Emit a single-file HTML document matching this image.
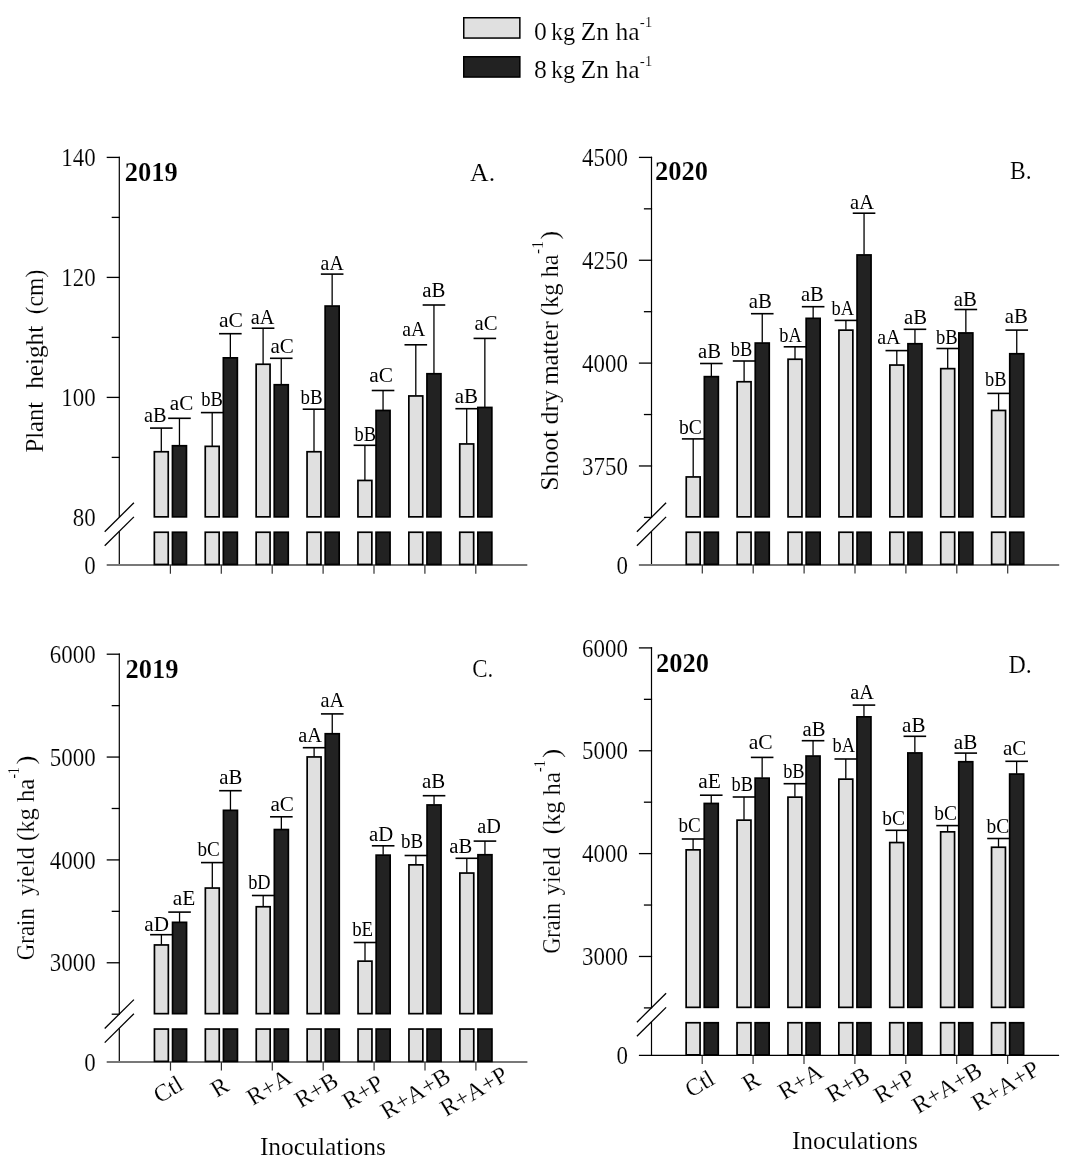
<!DOCTYPE html>
<html><head><meta charset="utf-8"><style>
html,body{margin:0;padding:0;background:#fff;}
svg{display:block;will-change:transform;}
text{font-family:"Liberation Serif",serif;fill:#000;font-kerning:none;stroke:#fff;stroke-width:0.6px;}
text.s{stroke:none;}
</style></head><body>
<svg width="1079" height="1169" viewBox="0 0 1079 1169">
<rect width="1079" height="1169" fill="#fff"/>
<rect x="463.75" y="17.75" width="56.10" height="20.30" fill="#e0e0e0" stroke="#000" stroke-width="1.50"/>
<rect x="463.75" y="56.75" width="56.10" height="20.30" fill="#222222" stroke="#000" stroke-width="1.50"/>
<text transform="translate(534.02 39.60) scale(0.2624 0.2500)" font-size="98.00">0</text>
<text transform="translate(550.94 39.60) scale(0.2482 0.2500)" font-size="98.00">kg</text>
<text transform="translate(580.68 39.60) scale(0.2600 0.2500)" font-size="98.00">Zn</text>
<text transform="translate(615.55 39.60) scale(0.2616 0.2500)" font-size="98.00">ha</text>
<text transform="translate(639.84 27.30) scale(0.2433 0.2500)" font-size="62.00">-1</text>
<text transform="translate(534.02 78.10) scale(0.2624 0.2500)" font-size="98.00">8</text>
<text transform="translate(550.94 78.10) scale(0.2482 0.2500)" font-size="98.00">kg</text>
<text transform="translate(580.68 78.10) scale(0.2600 0.2500)" font-size="98.00">Zn</text>
<text transform="translate(615.55 78.10) scale(0.2616 0.2500)" font-size="98.00">ha</text>
<text transform="translate(639.84 65.80) scale(0.2433 0.2500)" font-size="62.00">-1</text>
<line x1="119.30" y1="156.75" x2="119.30" y2="517.20" stroke="#000" stroke-width="1.20"/>
<line x1="119.30" y1="531.40" x2="119.30" y2="565.00" stroke="#000" stroke-width="1.20"/>
<line x1="106.70" y1="157.40" x2="119.90" y2="157.40" stroke="#000" stroke-width="1.30"/>
<line x1="106.70" y1="277.40" x2="119.90" y2="277.40" stroke="#000" stroke-width="1.30"/>
<line x1="106.70" y1="397.40" x2="119.90" y2="397.40" stroke="#000" stroke-width="1.30"/>
<line x1="111.70" y1="217.40" x2="119.90" y2="217.40" stroke="#000" stroke-width="1.30"/>
<line x1="111.70" y1="337.40" x2="119.90" y2="337.40" stroke="#000" stroke-width="1.30"/>
<line x1="111.70" y1="457.40" x2="119.90" y2="457.40" stroke="#000" stroke-width="1.30"/>
<line x1="104.70" y1="531.70" x2="133.90" y2="502.80" stroke="#000" stroke-width="1.30"/>
<line x1="104.70" y1="545.80" x2="133.90" y2="516.90" stroke="#000" stroke-width="1.30"/>
<text transform="translate(61.35 166.00) scale(0.2250 0.2500)" font-size="102.00">140</text>
<text transform="translate(61.35 286.00) scale(0.2250 0.2500)" font-size="102.00">120</text>
<text transform="translate(61.35 406.00) scale(0.2250 0.2500)" font-size="102.00">100</text>
<text transform="translate(72.82 526.00) scale(0.2250 0.2500)" font-size="102.00">80</text>
<text transform="translate(84.30 573.60) scale(0.2250 0.2500)" font-size="102.00">0</text>
<rect x="106.70" y="564.00" width="420.60" height="2" fill="#787878"/>
<line x1="161.30" y1="428.10" x2="161.30" y2="451.40" stroke="#000" stroke-width="1.30"/>
<line x1="150.00" y1="428.10" x2="172.60" y2="428.10" stroke="#000" stroke-width="1.60"/>
<rect x="154.35" y="451.75" width="13.90" height="65.10" fill="#e0e0e0" stroke="#000" stroke-width="1.70"/>
<rect x="154.35" y="532.25" width="13.90" height="32.20" fill="#e0e0e0" stroke="#000" stroke-width="1.70"/>
<line x1="179.45" y1="418.30" x2="179.45" y2="445.40" stroke="#000" stroke-width="1.30"/>
<line x1="168.15" y1="418.30" x2="190.75" y2="418.30" stroke="#000" stroke-width="1.60"/>
<rect x="172.45" y="445.75" width="14.00" height="71.10" fill="#222222" stroke="#000" stroke-width="1.70"/>
<rect x="172.45" y="532.25" width="14.00" height="32.20" fill="#222222" stroke="#000" stroke-width="1.70"/>
<line x1="170.40" y1="565.00" x2="170.40" y2="573.70" stroke="#333" stroke-width="1.20"/>
<line x1="212.20" y1="412.60" x2="212.20" y2="446.00" stroke="#000" stroke-width="1.30"/>
<line x1="200.90" y1="412.60" x2="223.50" y2="412.60" stroke="#000" stroke-width="1.60"/>
<rect x="205.25" y="446.35" width="13.90" height="70.50" fill="#e0e0e0" stroke="#000" stroke-width="1.70"/>
<rect x="205.25" y="532.25" width="13.90" height="32.20" fill="#e0e0e0" stroke="#000" stroke-width="1.70"/>
<line x1="230.35" y1="333.70" x2="230.35" y2="357.50" stroke="#000" stroke-width="1.30"/>
<line x1="219.05" y1="333.70" x2="241.65" y2="333.70" stroke="#000" stroke-width="1.60"/>
<rect x="223.35" y="357.85" width="14.00" height="159.00" fill="#222222" stroke="#000" stroke-width="1.70"/>
<rect x="223.35" y="532.25" width="14.00" height="32.20" fill="#222222" stroke="#000" stroke-width="1.70"/>
<line x1="221.30" y1="565.00" x2="221.30" y2="573.70" stroke="#333" stroke-width="1.20"/>
<line x1="263.10" y1="328.20" x2="263.10" y2="363.90" stroke="#000" stroke-width="1.30"/>
<line x1="251.80" y1="328.20" x2="274.40" y2="328.20" stroke="#000" stroke-width="1.60"/>
<rect x="256.15" y="364.25" width="13.90" height="152.60" fill="#e0e0e0" stroke="#000" stroke-width="1.70"/>
<rect x="256.15" y="532.25" width="13.90" height="32.20" fill="#e0e0e0" stroke="#000" stroke-width="1.70"/>
<line x1="281.25" y1="358.30" x2="281.25" y2="384.40" stroke="#000" stroke-width="1.30"/>
<line x1="269.95" y1="358.30" x2="292.55" y2="358.30" stroke="#000" stroke-width="1.60"/>
<rect x="274.25" y="384.75" width="14.00" height="132.10" fill="#222222" stroke="#000" stroke-width="1.70"/>
<rect x="274.25" y="532.25" width="14.00" height="32.20" fill="#222222" stroke="#000" stroke-width="1.70"/>
<line x1="272.20" y1="565.00" x2="272.20" y2="573.70" stroke="#333" stroke-width="1.20"/>
<line x1="314.00" y1="409.20" x2="314.00" y2="451.40" stroke="#000" stroke-width="1.30"/>
<line x1="302.70" y1="409.20" x2="325.30" y2="409.20" stroke="#000" stroke-width="1.60"/>
<rect x="307.05" y="451.75" width="13.90" height="65.10" fill="#e0e0e0" stroke="#000" stroke-width="1.70"/>
<rect x="307.05" y="532.25" width="13.90" height="32.20" fill="#e0e0e0" stroke="#000" stroke-width="1.70"/>
<line x1="332.15" y1="274.10" x2="332.15" y2="305.70" stroke="#000" stroke-width="1.30"/>
<line x1="320.85" y1="274.10" x2="343.45" y2="274.10" stroke="#000" stroke-width="1.60"/>
<rect x="325.15" y="306.05" width="14.00" height="210.80" fill="#222222" stroke="#000" stroke-width="1.70"/>
<rect x="325.15" y="532.25" width="14.00" height="32.20" fill="#222222" stroke="#000" stroke-width="1.70"/>
<line x1="323.10" y1="565.00" x2="323.10" y2="573.70" stroke="#333" stroke-width="1.20"/>
<line x1="364.90" y1="445.30" x2="364.90" y2="480.10" stroke="#000" stroke-width="1.30"/>
<line x1="353.60" y1="445.30" x2="376.20" y2="445.30" stroke="#000" stroke-width="1.60"/>
<rect x="357.95" y="480.45" width="13.90" height="36.40" fill="#e0e0e0" stroke="#000" stroke-width="1.70"/>
<rect x="357.95" y="532.25" width="13.90" height="32.20" fill="#e0e0e0" stroke="#000" stroke-width="1.70"/>
<line x1="383.05" y1="390.50" x2="383.05" y2="410.10" stroke="#000" stroke-width="1.30"/>
<line x1="371.75" y1="390.50" x2="394.35" y2="390.50" stroke="#000" stroke-width="1.60"/>
<rect x="376.05" y="410.45" width="14.00" height="106.40" fill="#222222" stroke="#000" stroke-width="1.70"/>
<rect x="376.05" y="532.25" width="14.00" height="32.20" fill="#222222" stroke="#000" stroke-width="1.70"/>
<line x1="374.00" y1="565.00" x2="374.00" y2="573.70" stroke="#333" stroke-width="1.20"/>
<line x1="415.80" y1="344.80" x2="415.80" y2="395.60" stroke="#000" stroke-width="1.30"/>
<line x1="404.50" y1="344.80" x2="427.10" y2="344.80" stroke="#000" stroke-width="1.60"/>
<rect x="408.85" y="395.95" width="13.90" height="120.90" fill="#e0e0e0" stroke="#000" stroke-width="1.70"/>
<rect x="408.85" y="532.25" width="13.90" height="32.20" fill="#e0e0e0" stroke="#000" stroke-width="1.70"/>
<line x1="433.95" y1="305.00" x2="433.95" y2="373.40" stroke="#000" stroke-width="1.30"/>
<line x1="422.65" y1="305.00" x2="445.25" y2="305.00" stroke="#000" stroke-width="1.60"/>
<rect x="426.95" y="373.75" width="14.00" height="143.10" fill="#222222" stroke="#000" stroke-width="1.70"/>
<rect x="426.95" y="532.25" width="14.00" height="32.20" fill="#222222" stroke="#000" stroke-width="1.70"/>
<line x1="424.90" y1="565.00" x2="424.90" y2="573.70" stroke="#333" stroke-width="1.20"/>
<line x1="466.70" y1="408.70" x2="466.70" y2="443.60" stroke="#000" stroke-width="1.30"/>
<line x1="455.40" y1="408.70" x2="478.00" y2="408.70" stroke="#000" stroke-width="1.60"/>
<rect x="459.75" y="443.95" width="13.90" height="72.90" fill="#e0e0e0" stroke="#000" stroke-width="1.70"/>
<rect x="459.75" y="532.25" width="13.90" height="32.20" fill="#e0e0e0" stroke="#000" stroke-width="1.70"/>
<line x1="484.85" y1="338.40" x2="484.85" y2="407.10" stroke="#000" stroke-width="1.30"/>
<line x1="473.55" y1="338.40" x2="496.15" y2="338.40" stroke="#000" stroke-width="1.60"/>
<rect x="477.85" y="407.45" width="14.00" height="109.40" fill="#222222" stroke="#000" stroke-width="1.70"/>
<rect x="477.85" y="532.25" width="14.00" height="32.20" fill="#222222" stroke="#000" stroke-width="1.70"/>
<line x1="475.80" y1="565.00" x2="475.80" y2="573.70" stroke="#333" stroke-width="1.20"/>
<text transform="translate(144.08 421.90) scale(0.2544 0.2500)" font-size="80.00" class="s">aB</text>
<text transform="translate(169.76 409.70) scale(0.2646 0.2500)" font-size="80.00" class="s">aC</text>
<text transform="translate(201.30 406.10) scale(0.2314 0.2500)" font-size="80.00" class="s">bB</text>
<text transform="translate(219.02 326.70) scale(0.2700 0.2500)" font-size="80.00" class="s">aC</text>
<text transform="translate(250.79 323.80) scale(0.2526 0.2500)" font-size="80.00" class="s">aA</text>
<text transform="translate(270.46 353.10) scale(0.2633 0.2500)" font-size="80.00" class="s">aC</text>
<text transform="translate(300.50 404.30) scale(0.2370 0.2500)" font-size="80.00" class="s">bB</text>
<text transform="translate(320.61 270.20) scale(0.2470 0.2500)" font-size="80.00" class="s">aA</text>
<text transform="translate(354.56 440.50) scale(0.2300 0.2500)" font-size="80.00" class="s">bB</text>
<text transform="translate(369.25 382.10) scale(0.2670 0.2500)" font-size="80.00" class="s">aC</text>
<text transform="translate(402.31 335.70) scale(0.2470 0.2500)" font-size="80.00" class="s">aA</text>
<text transform="translate(422.27 296.70) scale(0.2605 0.2500)" font-size="80.00" class="s">aB</text>
<text transform="translate(454.76 403.20) scale(0.2617 0.2500)" font-size="80.00" class="s">aB</text>
<text transform="translate(474.47 330.10) scale(0.2597 0.2500)" font-size="80.00" class="s">aC</text>
<line x1="651.50" y1="156.75" x2="651.50" y2="517.20" stroke="#000" stroke-width="1.20"/>
<line x1="651.50" y1="531.40" x2="651.50" y2="564.90" stroke="#000" stroke-width="1.20"/>
<line x1="638.90" y1="157.40" x2="652.10" y2="157.40" stroke="#000" stroke-width="1.30"/>
<line x1="638.90" y1="260.26" x2="652.10" y2="260.26" stroke="#000" stroke-width="1.30"/>
<line x1="638.90" y1="363.11" x2="652.10" y2="363.11" stroke="#000" stroke-width="1.30"/>
<line x1="638.90" y1="465.97" x2="652.10" y2="465.97" stroke="#000" stroke-width="1.30"/>
<line x1="643.90" y1="208.83" x2="652.10" y2="208.83" stroke="#000" stroke-width="1.30"/>
<line x1="643.90" y1="311.69" x2="652.10" y2="311.69" stroke="#000" stroke-width="1.30"/>
<line x1="643.90" y1="414.54" x2="652.10" y2="414.54" stroke="#000" stroke-width="1.30"/>
<line x1="643.90" y1="517.40" x2="652.10" y2="517.40" stroke="#000" stroke-width="1.30"/>
<line x1="636.90" y1="531.70" x2="666.10" y2="502.80" stroke="#000" stroke-width="1.30"/>
<line x1="636.90" y1="545.80" x2="666.10" y2="516.90" stroke="#000" stroke-width="1.30"/>
<text transform="translate(582.07 166.00) scale(0.2250 0.2500)" font-size="102.00">4500</text>
<text transform="translate(582.07 268.86) scale(0.2250 0.2500)" font-size="102.00">4250</text>
<text transform="translate(582.07 371.71) scale(0.2250 0.2500)" font-size="102.00">4000</text>
<text transform="translate(582.07 474.57) scale(0.2250 0.2500)" font-size="102.00">3750</text>
<text transform="translate(616.50 573.50) scale(0.2250 0.2500)" font-size="102.00">0</text>
<rect x="638.90" y="564.00" width="420.30" height="2" fill="#787878"/>
<line x1="693.20" y1="438.90" x2="693.20" y2="476.60" stroke="#000" stroke-width="1.30"/>
<line x1="681.90" y1="438.90" x2="704.50" y2="438.90" stroke="#000" stroke-width="1.60"/>
<rect x="686.25" y="476.95" width="13.90" height="39.90" fill="#e0e0e0" stroke="#000" stroke-width="1.70"/>
<rect x="686.25" y="532.25" width="13.90" height="32.10" fill="#e0e0e0" stroke="#000" stroke-width="1.70"/>
<line x1="711.35" y1="363.50" x2="711.35" y2="376.30" stroke="#000" stroke-width="1.30"/>
<line x1="700.05" y1="363.50" x2="722.65" y2="363.50" stroke="#000" stroke-width="1.60"/>
<rect x="704.35" y="376.65" width="14.00" height="140.20" fill="#222222" stroke="#000" stroke-width="1.70"/>
<rect x="704.35" y="532.25" width="14.00" height="32.10" fill="#222222" stroke="#000" stroke-width="1.70"/>
<line x1="702.30" y1="564.90" x2="702.30" y2="573.60" stroke="#333" stroke-width="1.20"/>
<line x1="744.10" y1="361.00" x2="744.10" y2="381.40" stroke="#000" stroke-width="1.30"/>
<line x1="732.80" y1="361.00" x2="755.40" y2="361.00" stroke="#000" stroke-width="1.60"/>
<rect x="737.15" y="381.75" width="13.90" height="135.10" fill="#e0e0e0" stroke="#000" stroke-width="1.70"/>
<rect x="737.15" y="532.25" width="13.90" height="32.10" fill="#e0e0e0" stroke="#000" stroke-width="1.70"/>
<line x1="762.25" y1="313.70" x2="762.25" y2="342.70" stroke="#000" stroke-width="1.30"/>
<line x1="750.95" y1="313.70" x2="773.55" y2="313.70" stroke="#000" stroke-width="1.60"/>
<rect x="755.25" y="343.05" width="14.00" height="173.80" fill="#222222" stroke="#000" stroke-width="1.70"/>
<rect x="755.25" y="532.25" width="14.00" height="32.10" fill="#222222" stroke="#000" stroke-width="1.70"/>
<line x1="753.20" y1="564.90" x2="753.20" y2="573.60" stroke="#333" stroke-width="1.20"/>
<line x1="795.00" y1="346.80" x2="795.00" y2="358.90" stroke="#000" stroke-width="1.30"/>
<line x1="783.70" y1="346.80" x2="806.30" y2="346.80" stroke="#000" stroke-width="1.60"/>
<rect x="788.05" y="359.25" width="13.90" height="157.60" fill="#e0e0e0" stroke="#000" stroke-width="1.70"/>
<rect x="788.05" y="532.25" width="13.90" height="32.10" fill="#e0e0e0" stroke="#000" stroke-width="1.70"/>
<line x1="813.15" y1="306.70" x2="813.15" y2="318.00" stroke="#000" stroke-width="1.30"/>
<line x1="801.85" y1="306.70" x2="824.45" y2="306.70" stroke="#000" stroke-width="1.60"/>
<rect x="806.15" y="318.35" width="14.00" height="198.50" fill="#222222" stroke="#000" stroke-width="1.70"/>
<rect x="806.15" y="532.25" width="14.00" height="32.10" fill="#222222" stroke="#000" stroke-width="1.70"/>
<line x1="804.10" y1="564.90" x2="804.10" y2="573.60" stroke="#333" stroke-width="1.20"/>
<line x1="845.90" y1="320.40" x2="845.90" y2="329.80" stroke="#000" stroke-width="1.30"/>
<line x1="834.60" y1="320.40" x2="857.20" y2="320.40" stroke="#000" stroke-width="1.60"/>
<rect x="838.95" y="330.15" width="13.90" height="186.70" fill="#e0e0e0" stroke="#000" stroke-width="1.70"/>
<rect x="838.95" y="532.25" width="13.90" height="32.10" fill="#e0e0e0" stroke="#000" stroke-width="1.70"/>
<line x1="864.05" y1="213.20" x2="864.05" y2="254.60" stroke="#000" stroke-width="1.30"/>
<line x1="852.75" y1="213.20" x2="875.35" y2="213.20" stroke="#000" stroke-width="1.60"/>
<rect x="857.05" y="254.95" width="14.00" height="261.90" fill="#222222" stroke="#000" stroke-width="1.70"/>
<rect x="857.05" y="532.25" width="14.00" height="32.10" fill="#222222" stroke="#000" stroke-width="1.70"/>
<line x1="855.00" y1="564.90" x2="855.00" y2="573.60" stroke="#333" stroke-width="1.20"/>
<line x1="896.80" y1="350.60" x2="896.80" y2="364.70" stroke="#000" stroke-width="1.30"/>
<line x1="885.50" y1="350.60" x2="908.10" y2="350.60" stroke="#000" stroke-width="1.60"/>
<rect x="889.85" y="365.05" width="13.90" height="151.80" fill="#e0e0e0" stroke="#000" stroke-width="1.70"/>
<rect x="889.85" y="532.25" width="13.90" height="32.10" fill="#e0e0e0" stroke="#000" stroke-width="1.70"/>
<line x1="914.95" y1="329.30" x2="914.95" y2="343.40" stroke="#000" stroke-width="1.30"/>
<line x1="903.65" y1="329.30" x2="926.25" y2="329.30" stroke="#000" stroke-width="1.60"/>
<rect x="907.95" y="343.75" width="14.00" height="173.10" fill="#222222" stroke="#000" stroke-width="1.70"/>
<rect x="907.95" y="532.25" width="14.00" height="32.10" fill="#222222" stroke="#000" stroke-width="1.70"/>
<line x1="905.90" y1="564.90" x2="905.90" y2="573.60" stroke="#333" stroke-width="1.20"/>
<line x1="947.70" y1="348.50" x2="947.70" y2="368.30" stroke="#000" stroke-width="1.30"/>
<line x1="936.40" y1="348.50" x2="959.00" y2="348.50" stroke="#000" stroke-width="1.60"/>
<rect x="940.75" y="368.65" width="13.90" height="148.20" fill="#e0e0e0" stroke="#000" stroke-width="1.70"/>
<rect x="940.75" y="532.25" width="13.90" height="32.10" fill="#e0e0e0" stroke="#000" stroke-width="1.70"/>
<line x1="965.85" y1="309.50" x2="965.85" y2="332.60" stroke="#000" stroke-width="1.30"/>
<line x1="954.55" y1="309.50" x2="977.15" y2="309.50" stroke="#000" stroke-width="1.60"/>
<rect x="958.85" y="332.95" width="14.00" height="183.90" fill="#222222" stroke="#000" stroke-width="1.70"/>
<rect x="958.85" y="532.25" width="14.00" height="32.10" fill="#222222" stroke="#000" stroke-width="1.70"/>
<line x1="956.80" y1="564.90" x2="956.80" y2="573.60" stroke="#333" stroke-width="1.20"/>
<line x1="998.60" y1="393.40" x2="998.60" y2="410.10" stroke="#000" stroke-width="1.30"/>
<line x1="987.30" y1="393.40" x2="1009.90" y2="393.40" stroke="#000" stroke-width="1.60"/>
<rect x="991.65" y="410.45" width="13.90" height="106.40" fill="#e0e0e0" stroke="#000" stroke-width="1.70"/>
<rect x="991.65" y="532.25" width="13.90" height="32.10" fill="#e0e0e0" stroke="#000" stroke-width="1.70"/>
<line x1="1016.75" y1="330.10" x2="1016.75" y2="353.40" stroke="#000" stroke-width="1.30"/>
<line x1="1005.45" y1="330.10" x2="1028.05" y2="330.10" stroke="#000" stroke-width="1.60"/>
<rect x="1009.75" y="353.75" width="14.00" height="163.10" fill="#222222" stroke="#000" stroke-width="1.70"/>
<rect x="1009.75" y="532.25" width="14.00" height="32.10" fill="#222222" stroke="#000" stroke-width="1.70"/>
<line x1="1007.70" y1="564.90" x2="1007.70" y2="573.60" stroke="#333" stroke-width="1.20"/>
<text transform="translate(679.00 434.00) scale(0.2451 0.2500)" font-size="80.00" class="s">bC</text>
<text transform="translate(697.97 357.60) scale(0.2581 0.2500)" font-size="80.00" class="s">aB</text>
<text transform="translate(730.80 355.50) scale(0.2303 0.2500)" font-size="80.00" class="s">bB</text>
<text transform="translate(748.77 308.00) scale(0.2593 0.2500)" font-size="80.00" class="s">aB</text>
<text transform="translate(779.32 341.50) scale(0.2300 0.2500)" font-size="80.00" class="s">bA</text>
<text transform="translate(800.88 301.20) scale(0.2569 0.2500)" font-size="80.00" class="s">aB</text>
<text transform="translate(831.47 314.50) scale(0.2300 0.2500)" font-size="80.00" class="s">bA</text>
<text transform="translate(850.08 208.70) scale(0.2559 0.2500)" font-size="80.00" class="s">aA</text>
<text transform="translate(877.20 343.80) scale(0.2503 0.2500)" font-size="80.00" class="s">aA</text>
<text transform="translate(903.97 324.10) scale(0.2581 0.2500)" font-size="80.00" class="s">aB</text>
<text transform="translate(935.90 343.50) scale(0.2325 0.2500)" font-size="80.00" class="s">bB</text>
<text transform="translate(953.87 305.50) scale(0.2593 0.2500)" font-size="80.00" class="s">aB</text>
<text transform="translate(984.96 386.30) scale(0.2300 0.2500)" font-size="80.00" class="s">bB</text>
<text transform="translate(1004.77 323.30) scale(0.2593 0.2500)" font-size="80.00" class="s">aB</text>
<line x1="119.30" y1="653.55" x2="119.30" y2="1014.00" stroke="#000" stroke-width="1.20"/>
<line x1="119.30" y1="1028.20" x2="119.30" y2="1061.90" stroke="#000" stroke-width="1.20"/>
<line x1="106.70" y1="654.20" x2="119.90" y2="654.20" stroke="#000" stroke-width="1.30"/>
<line x1="106.70" y1="757.06" x2="119.90" y2="757.06" stroke="#000" stroke-width="1.30"/>
<line x1="106.70" y1="859.91" x2="119.90" y2="859.91" stroke="#000" stroke-width="1.30"/>
<line x1="106.70" y1="962.77" x2="119.90" y2="962.77" stroke="#000" stroke-width="1.30"/>
<line x1="111.70" y1="705.63" x2="119.90" y2="705.63" stroke="#000" stroke-width="1.30"/>
<line x1="111.70" y1="808.49" x2="119.90" y2="808.49" stroke="#000" stroke-width="1.30"/>
<line x1="111.70" y1="911.34" x2="119.90" y2="911.34" stroke="#000" stroke-width="1.30"/>
<line x1="111.70" y1="1014.20" x2="119.90" y2="1014.20" stroke="#000" stroke-width="1.30"/>
<line x1="104.70" y1="1028.50" x2="133.90" y2="999.60" stroke="#000" stroke-width="1.30"/>
<line x1="104.70" y1="1042.60" x2="133.90" y2="1013.70" stroke="#000" stroke-width="1.30"/>
<text transform="translate(49.87 662.80) scale(0.2250 0.2500)" font-size="102.00">6000</text>
<text transform="translate(49.87 765.66) scale(0.2250 0.2500)" font-size="102.00">5000</text>
<text transform="translate(49.87 868.51) scale(0.2250 0.2500)" font-size="102.00">4000</text>
<text transform="translate(49.87 971.37) scale(0.2250 0.2500)" font-size="102.00">3000</text>
<text transform="translate(84.30 1070.50) scale(0.2250 0.2500)" font-size="102.00">0</text>
<rect x="106.70" y="1061.00" width="420.70" height="2" fill="#787878"/>
<line x1="161.40" y1="934.70" x2="161.40" y2="944.60" stroke="#000" stroke-width="1.30"/>
<line x1="150.10" y1="934.70" x2="172.70" y2="934.70" stroke="#000" stroke-width="1.60"/>
<rect x="154.45" y="944.95" width="13.90" height="68.70" fill="#e0e0e0" stroke="#000" stroke-width="1.70"/>
<rect x="154.45" y="1029.05" width="13.90" height="32.30" fill="#e0e0e0" stroke="#000" stroke-width="1.70"/>
<line x1="179.55" y1="912.10" x2="179.55" y2="922.00" stroke="#000" stroke-width="1.30"/>
<line x1="168.25" y1="912.10" x2="190.85" y2="912.10" stroke="#000" stroke-width="1.60"/>
<rect x="172.55" y="922.35" width="14.00" height="91.30" fill="#222222" stroke="#000" stroke-width="1.70"/>
<rect x="172.55" y="1029.05" width="14.00" height="32.30" fill="#222222" stroke="#000" stroke-width="1.70"/>
<line x1="170.50" y1="1061.90" x2="170.50" y2="1070.60" stroke="#333" stroke-width="1.20"/>
<line x1="212.30" y1="862.60" x2="212.30" y2="887.70" stroke="#000" stroke-width="1.30"/>
<line x1="201.00" y1="862.60" x2="223.60" y2="862.60" stroke="#000" stroke-width="1.60"/>
<rect x="205.35" y="888.05" width="13.90" height="125.60" fill="#e0e0e0" stroke="#000" stroke-width="1.70"/>
<rect x="205.35" y="1029.05" width="13.90" height="32.30" fill="#e0e0e0" stroke="#000" stroke-width="1.70"/>
<line x1="230.45" y1="790.70" x2="230.45" y2="810.00" stroke="#000" stroke-width="1.30"/>
<line x1="219.15" y1="790.70" x2="241.75" y2="790.70" stroke="#000" stroke-width="1.60"/>
<rect x="223.45" y="810.35" width="14.00" height="203.30" fill="#222222" stroke="#000" stroke-width="1.70"/>
<rect x="223.45" y="1029.05" width="14.00" height="32.30" fill="#222222" stroke="#000" stroke-width="1.70"/>
<line x1="221.40" y1="1061.90" x2="221.40" y2="1070.60" stroke="#333" stroke-width="1.20"/>
<line x1="263.20" y1="895.50" x2="263.20" y2="906.40" stroke="#000" stroke-width="1.30"/>
<line x1="251.90" y1="895.50" x2="274.50" y2="895.50" stroke="#000" stroke-width="1.60"/>
<rect x="256.25" y="906.75" width="13.90" height="106.90" fill="#e0e0e0" stroke="#000" stroke-width="1.70"/>
<rect x="256.25" y="1029.05" width="13.90" height="32.30" fill="#e0e0e0" stroke="#000" stroke-width="1.70"/>
<line x1="281.35" y1="816.80" x2="281.35" y2="829.20" stroke="#000" stroke-width="1.30"/>
<line x1="270.05" y1="816.80" x2="292.65" y2="816.80" stroke="#000" stroke-width="1.60"/>
<rect x="274.35" y="829.55" width="14.00" height="184.10" fill="#222222" stroke="#000" stroke-width="1.70"/>
<rect x="274.35" y="1029.05" width="14.00" height="32.30" fill="#222222" stroke="#000" stroke-width="1.70"/>
<line x1="272.30" y1="1061.90" x2="272.30" y2="1070.60" stroke="#333" stroke-width="1.20"/>
<line x1="314.10" y1="747.70" x2="314.10" y2="756.60" stroke="#000" stroke-width="1.30"/>
<line x1="302.80" y1="747.70" x2="325.40" y2="747.70" stroke="#000" stroke-width="1.60"/>
<rect x="307.15" y="756.95" width="13.90" height="256.70" fill="#e0e0e0" stroke="#000" stroke-width="1.70"/>
<rect x="307.15" y="1029.05" width="13.90" height="32.30" fill="#e0e0e0" stroke="#000" stroke-width="1.70"/>
<line x1="332.25" y1="713.90" x2="332.25" y2="733.40" stroke="#000" stroke-width="1.30"/>
<line x1="320.95" y1="713.90" x2="343.55" y2="713.90" stroke="#000" stroke-width="1.60"/>
<rect x="325.25" y="733.75" width="14.00" height="279.90" fill="#222222" stroke="#000" stroke-width="1.70"/>
<rect x="325.25" y="1029.05" width="14.00" height="32.30" fill="#222222" stroke="#000" stroke-width="1.70"/>
<line x1="323.20" y1="1061.90" x2="323.20" y2="1070.60" stroke="#333" stroke-width="1.20"/>
<line x1="365.00" y1="942.50" x2="365.00" y2="960.80" stroke="#000" stroke-width="1.30"/>
<line x1="353.70" y1="942.50" x2="376.30" y2="942.50" stroke="#000" stroke-width="1.60"/>
<rect x="358.05" y="961.15" width="13.90" height="52.50" fill="#e0e0e0" stroke="#000" stroke-width="1.70"/>
<rect x="358.05" y="1029.05" width="13.90" height="32.30" fill="#e0e0e0" stroke="#000" stroke-width="1.70"/>
<line x1="383.15" y1="845.80" x2="383.15" y2="854.80" stroke="#000" stroke-width="1.30"/>
<line x1="371.85" y1="845.80" x2="394.45" y2="845.80" stroke="#000" stroke-width="1.60"/>
<rect x="376.15" y="855.15" width="14.00" height="158.50" fill="#222222" stroke="#000" stroke-width="1.70"/>
<rect x="376.15" y="1029.05" width="14.00" height="32.30" fill="#222222" stroke="#000" stroke-width="1.70"/>
<line x1="374.10" y1="1061.90" x2="374.10" y2="1070.60" stroke="#333" stroke-width="1.20"/>
<line x1="415.90" y1="855.50" x2="415.90" y2="864.50" stroke="#000" stroke-width="1.30"/>
<line x1="404.60" y1="855.50" x2="427.20" y2="855.50" stroke="#000" stroke-width="1.60"/>
<rect x="408.95" y="864.85" width="13.90" height="148.80" fill="#e0e0e0" stroke="#000" stroke-width="1.70"/>
<rect x="408.95" y="1029.05" width="13.90" height="32.30" fill="#e0e0e0" stroke="#000" stroke-width="1.70"/>
<line x1="434.05" y1="795.70" x2="434.05" y2="804.60" stroke="#000" stroke-width="1.30"/>
<line x1="422.75" y1="795.70" x2="445.35" y2="795.70" stroke="#000" stroke-width="1.60"/>
<rect x="427.05" y="804.95" width="14.00" height="208.70" fill="#222222" stroke="#000" stroke-width="1.70"/>
<rect x="427.05" y="1029.05" width="14.00" height="32.30" fill="#222222" stroke="#000" stroke-width="1.70"/>
<line x1="425.00" y1="1061.90" x2="425.00" y2="1070.60" stroke="#333" stroke-width="1.20"/>
<line x1="466.80" y1="858.30" x2="466.80" y2="872.70" stroke="#000" stroke-width="1.30"/>
<line x1="455.50" y1="858.30" x2="478.10" y2="858.30" stroke="#000" stroke-width="1.60"/>
<rect x="459.85" y="873.05" width="13.90" height="140.60" fill="#e0e0e0" stroke="#000" stroke-width="1.70"/>
<rect x="459.85" y="1029.05" width="13.90" height="32.30" fill="#e0e0e0" stroke="#000" stroke-width="1.70"/>
<line x1="484.95" y1="841.10" x2="484.95" y2="854.40" stroke="#000" stroke-width="1.30"/>
<line x1="473.65" y1="841.10" x2="496.25" y2="841.10" stroke="#000" stroke-width="1.60"/>
<rect x="477.95" y="854.75" width="14.00" height="158.90" fill="#222222" stroke="#000" stroke-width="1.70"/>
<rect x="477.95" y="1029.05" width="14.00" height="32.30" fill="#222222" stroke="#000" stroke-width="1.70"/>
<line x1="475.90" y1="1061.90" x2="475.90" y2="1070.60" stroke="#333" stroke-width="1.20"/>
<text transform="translate(144.36 931.30) scale(0.2647 0.2500)" font-size="80.00" class="s">aD</text>
<text transform="translate(172.75 904.60) scale(0.2668 0.2500)" font-size="80.00" class="s">aE</text>
<text transform="translate(197.40 855.60) scale(0.2395 0.2500)" font-size="80.00" class="s">bC</text>
<text transform="translate(219.27 784.10) scale(0.2593 0.2500)" font-size="80.00" class="s">aB</text>
<text transform="translate(248.17 888.90) scale(0.2300 0.2500)" font-size="80.00" class="s">bD</text>
<text transform="translate(270.46 811.20) scale(0.2646 0.2500)" font-size="80.00" class="s">aC</text>
<text transform="translate(298.19 741.60) scale(0.2537 0.2500)" font-size="80.00" class="s">aA</text>
<text transform="translate(320.48 706.90) scale(0.2548 0.2500)" font-size="80.00" class="s">aA</text>
<text transform="translate(352.20 935.60) scale(0.2356 0.2500)" font-size="80.00" class="s">bE</text>
<text transform="translate(368.97 840.90) scale(0.2590 0.2500)" font-size="80.00" class="s">aD</text>
<text transform="translate(401.00 848.00) scale(0.2370 0.2500)" font-size="80.00" class="s">bB</text>
<text transform="translate(422.06 788.00) scale(0.2617 0.2500)" font-size="80.00" class="s">aB</text>
<text transform="translate(449.37 852.90) scale(0.2581 0.2500)" font-size="80.00" class="s">aB</text>
<text transform="translate(477.19 832.50) scale(0.2532 0.2500)" font-size="80.00" class="s">aD</text>
<line x1="651.50" y1="647.25" x2="651.50" y2="1007.70" stroke="#000" stroke-width="1.20"/>
<line x1="651.50" y1="1021.90" x2="651.50" y2="1055.40" stroke="#000" stroke-width="1.20"/>
<line x1="638.90" y1="647.90" x2="652.10" y2="647.90" stroke="#000" stroke-width="1.30"/>
<line x1="638.90" y1="750.76" x2="652.10" y2="750.76" stroke="#000" stroke-width="1.30"/>
<line x1="638.90" y1="853.61" x2="652.10" y2="853.61" stroke="#000" stroke-width="1.30"/>
<line x1="638.90" y1="956.47" x2="652.10" y2="956.47" stroke="#000" stroke-width="1.30"/>
<line x1="643.90" y1="699.33" x2="652.10" y2="699.33" stroke="#000" stroke-width="1.30"/>
<line x1="643.90" y1="802.19" x2="652.10" y2="802.19" stroke="#000" stroke-width="1.30"/>
<line x1="643.90" y1="905.04" x2="652.10" y2="905.04" stroke="#000" stroke-width="1.30"/>
<line x1="643.90" y1="1007.90" x2="652.10" y2="1007.90" stroke="#000" stroke-width="1.30"/>
<line x1="636.90" y1="1022.20" x2="666.10" y2="993.30" stroke="#000" stroke-width="1.30"/>
<line x1="636.90" y1="1036.30" x2="666.10" y2="1007.40" stroke="#000" stroke-width="1.30"/>
<text transform="translate(582.07 656.50) scale(0.2250 0.2500)" font-size="102.00">6000</text>
<text transform="translate(582.07 759.36) scale(0.2250 0.2500)" font-size="102.00">5000</text>
<text transform="translate(582.07 862.21) scale(0.2250 0.2500)" font-size="102.00">4000</text>
<text transform="translate(582.07 965.07) scale(0.2250 0.2500)" font-size="102.00">3000</text>
<text transform="translate(616.50 1064.00) scale(0.2250 0.2500)" font-size="102.00">0</text>
<line x1="638.90" y1="1055.40" x2="1059.10" y2="1055.40" stroke="#000" stroke-width="1.10"/>
<line x1="693.10" y1="839.00" x2="693.10" y2="849.50" stroke="#000" stroke-width="1.30"/>
<line x1="681.80" y1="839.00" x2="704.40" y2="839.00" stroke="#000" stroke-width="1.60"/>
<rect x="686.15" y="849.85" width="13.90" height="157.50" fill="#e0e0e0" stroke="#000" stroke-width="1.70"/>
<rect x="686.15" y="1022.75" width="13.90" height="32.10" fill="#e0e0e0" stroke="#000" stroke-width="1.70"/>
<line x1="711.25" y1="795.20" x2="711.25" y2="803.10" stroke="#000" stroke-width="1.30"/>
<line x1="699.95" y1="795.20" x2="722.55" y2="795.20" stroke="#000" stroke-width="1.60"/>
<rect x="704.25" y="803.45" width="14.00" height="203.90" fill="#222222" stroke="#000" stroke-width="1.70"/>
<rect x="704.25" y="1022.75" width="14.00" height="32.10" fill="#222222" stroke="#000" stroke-width="1.70"/>
<line x1="702.20" y1="1055.40" x2="702.20" y2="1064.10" stroke="#333" stroke-width="1.20"/>
<line x1="744.00" y1="797.00" x2="744.00" y2="819.80" stroke="#000" stroke-width="1.30"/>
<line x1="732.70" y1="797.00" x2="755.30" y2="797.00" stroke="#000" stroke-width="1.60"/>
<rect x="737.05" y="820.15" width="13.90" height="187.20" fill="#e0e0e0" stroke="#000" stroke-width="1.70"/>
<rect x="737.05" y="1022.75" width="13.90" height="32.10" fill="#e0e0e0" stroke="#000" stroke-width="1.70"/>
<line x1="762.15" y1="757.40" x2="762.15" y2="777.80" stroke="#000" stroke-width="1.30"/>
<line x1="750.85" y1="757.40" x2="773.45" y2="757.40" stroke="#000" stroke-width="1.60"/>
<rect x="755.15" y="778.15" width="14.00" height="229.20" fill="#222222" stroke="#000" stroke-width="1.70"/>
<rect x="755.15" y="1022.75" width="14.00" height="32.10" fill="#222222" stroke="#000" stroke-width="1.70"/>
<line x1="753.10" y1="1055.40" x2="753.10" y2="1064.10" stroke="#333" stroke-width="1.20"/>
<line x1="794.90" y1="783.70" x2="794.90" y2="796.80" stroke="#000" stroke-width="1.30"/>
<line x1="783.60" y1="783.70" x2="806.20" y2="783.70" stroke="#000" stroke-width="1.60"/>
<rect x="787.95" y="797.15" width="13.90" height="210.20" fill="#e0e0e0" stroke="#000" stroke-width="1.70"/>
<rect x="787.95" y="1022.75" width="13.90" height="32.10" fill="#e0e0e0" stroke="#000" stroke-width="1.70"/>
<line x1="813.05" y1="740.70" x2="813.05" y2="755.70" stroke="#000" stroke-width="1.30"/>
<line x1="801.75" y1="740.70" x2="824.35" y2="740.70" stroke="#000" stroke-width="1.60"/>
<rect x="806.05" y="756.05" width="14.00" height="251.30" fill="#222222" stroke="#000" stroke-width="1.70"/>
<rect x="806.05" y="1022.75" width="14.00" height="32.10" fill="#222222" stroke="#000" stroke-width="1.70"/>
<line x1="804.00" y1="1055.40" x2="804.00" y2="1064.10" stroke="#333" stroke-width="1.20"/>
<line x1="845.80" y1="759.00" x2="845.80" y2="778.80" stroke="#000" stroke-width="1.30"/>
<line x1="834.50" y1="759.00" x2="857.10" y2="759.00" stroke="#000" stroke-width="1.60"/>
<rect x="838.85" y="779.15" width="13.90" height="228.20" fill="#e0e0e0" stroke="#000" stroke-width="1.70"/>
<rect x="838.85" y="1022.75" width="13.90" height="32.10" fill="#e0e0e0" stroke="#000" stroke-width="1.70"/>
<line x1="863.95" y1="705.10" x2="863.95" y2="716.50" stroke="#000" stroke-width="1.30"/>
<line x1="852.65" y1="705.10" x2="875.25" y2="705.10" stroke="#000" stroke-width="1.60"/>
<rect x="856.95" y="716.85" width="14.00" height="290.50" fill="#222222" stroke="#000" stroke-width="1.70"/>
<rect x="856.95" y="1022.75" width="14.00" height="32.10" fill="#222222" stroke="#000" stroke-width="1.70"/>
<line x1="854.90" y1="1055.40" x2="854.90" y2="1064.10" stroke="#333" stroke-width="1.20"/>
<line x1="896.70" y1="830.30" x2="896.70" y2="842.20" stroke="#000" stroke-width="1.30"/>
<line x1="885.40" y1="830.30" x2="908.00" y2="830.30" stroke="#000" stroke-width="1.60"/>
<rect x="889.75" y="842.55" width="13.90" height="164.80" fill="#e0e0e0" stroke="#000" stroke-width="1.70"/>
<rect x="889.75" y="1022.75" width="13.90" height="32.10" fill="#e0e0e0" stroke="#000" stroke-width="1.70"/>
<line x1="914.85" y1="736.30" x2="914.85" y2="752.60" stroke="#000" stroke-width="1.30"/>
<line x1="903.55" y1="736.30" x2="926.15" y2="736.30" stroke="#000" stroke-width="1.60"/>
<rect x="907.85" y="752.95" width="14.00" height="254.40" fill="#222222" stroke="#000" stroke-width="1.70"/>
<rect x="907.85" y="1022.75" width="14.00" height="32.10" fill="#222222" stroke="#000" stroke-width="1.70"/>
<line x1="905.80" y1="1055.40" x2="905.80" y2="1064.10" stroke="#333" stroke-width="1.20"/>
<line x1="947.60" y1="825.60" x2="947.60" y2="831.50" stroke="#000" stroke-width="1.30"/>
<line x1="936.30" y1="825.60" x2="958.90" y2="825.60" stroke="#000" stroke-width="1.60"/>
<rect x="940.65" y="831.85" width="13.90" height="175.50" fill="#e0e0e0" stroke="#000" stroke-width="1.70"/>
<rect x="940.65" y="1022.75" width="13.90" height="32.10" fill="#e0e0e0" stroke="#000" stroke-width="1.70"/>
<line x1="965.75" y1="753.10" x2="965.75" y2="761.40" stroke="#000" stroke-width="1.30"/>
<line x1="954.45" y1="753.10" x2="977.05" y2="753.10" stroke="#000" stroke-width="1.60"/>
<rect x="958.75" y="761.75" width="14.00" height="245.60" fill="#222222" stroke="#000" stroke-width="1.70"/>
<rect x="958.75" y="1022.75" width="14.00" height="32.10" fill="#222222" stroke="#000" stroke-width="1.70"/>
<line x1="956.70" y1="1055.40" x2="956.70" y2="1064.10" stroke="#333" stroke-width="1.20"/>
<line x1="998.50" y1="838.50" x2="998.50" y2="846.90" stroke="#000" stroke-width="1.30"/>
<line x1="987.20" y1="838.50" x2="1009.80" y2="838.50" stroke="#000" stroke-width="1.60"/>
<rect x="991.55" y="847.25" width="13.90" height="160.10" fill="#e0e0e0" stroke="#000" stroke-width="1.70"/>
<rect x="991.55" y="1022.75" width="13.90" height="32.10" fill="#e0e0e0" stroke="#000" stroke-width="1.70"/>
<line x1="1016.65" y1="761.30" x2="1016.65" y2="773.70" stroke="#000" stroke-width="1.30"/>
<line x1="1005.35" y1="761.30" x2="1027.95" y2="761.30" stroke="#000" stroke-width="1.60"/>
<rect x="1009.65" y="774.05" width="14.00" height="233.30" fill="#222222" stroke="#000" stroke-width="1.70"/>
<rect x="1009.65" y="1022.75" width="14.00" height="32.10" fill="#222222" stroke="#000" stroke-width="1.70"/>
<line x1="1007.60" y1="1055.40" x2="1007.60" y2="1064.10" stroke="#333" stroke-width="1.20"/>
<text transform="translate(678.50 832.30) scale(0.2383 0.2500)" font-size="80.00" class="s">bC</text>
<text transform="translate(698.15 788.30) scale(0.2681 0.2500)" font-size="80.00" class="s">aE</text>
<text transform="translate(731.46 791.10) scale(0.2300 0.2500)" font-size="80.00" class="s">bB</text>
<text transform="translate(748.67 749.30) scale(0.2700 0.2500)" font-size="80.00" class="s">aC</text>
<text transform="translate(783.16 778.20) scale(0.2300 0.2500)" font-size="80.00" class="s">bB</text>
<text transform="translate(802.57 735.70) scale(0.2581 0.2500)" font-size="80.00" class="s">aB</text>
<text transform="translate(832.57 751.60) scale(0.2300 0.2500)" font-size="80.00" class="s">bA</text>
<text transform="translate(850.19 698.50) scale(0.2537 0.2500)" font-size="80.00" class="s">aA</text>
<text transform="translate(882.30 824.80) scale(0.2428 0.2500)" font-size="80.00" class="s">bC</text>
<text transform="translate(902.06 731.80) scale(0.2629 0.2500)" font-size="80.00" class="s">aB</text>
<text transform="translate(934.30 819.60) scale(0.2428 0.2500)" font-size="80.00" class="s">bC</text>
<text transform="translate(953.86 748.70) scale(0.2642 0.2500)" font-size="80.00" class="s">aB</text>
<text transform="translate(986.60 833.10) scale(0.2440 0.2500)" font-size="80.00" class="s">bC</text>
<text transform="translate(1002.96 754.90) scale(0.2633 0.2500)" font-size="80.00" class="s">aC</text>
<text transform="translate(124.69 181.00) scale(0.2500)" font-size="106.00" font-weight="bold">2019</text>
<text transform="translate(655.09 180.30) scale(0.2500)" font-size="106.00" font-weight="bold">2020</text>
<text transform="translate(125.39 677.50) scale(0.2500)" font-size="106.00" font-weight="bold">2019</text>
<text transform="translate(656.09 672.40) scale(0.2500)" font-size="106.00" font-weight="bold">2020</text>
<text transform="translate(470.05 180.70) scale(0.2526 0.2500)" font-size="102.00">A.</text>
<text transform="translate(1009.92 178.60) scale(0.2313 0.2500)" font-size="102.00">B.</text>
<text transform="translate(472.16 677.30) scale(0.2251 0.2500)" font-size="102.00">C.</text>
<text transform="translate(1008.51 672.80) scale(0.2346 0.2500)" font-size="102.00">D.</text>
<text transform="translate(259.88 1155.00) scale(0.2500)" font-size="102.00">Inoculations</text>
<text transform="translate(791.88 1148.80) scale(0.2500)" font-size="102.00">Inoculations</text>
<text transform="translate(42.60 452.61) rotate(-90) scale(0.2426 0.2500)" font-size="102.00">Plant</text>
<text transform="translate(42.60 388.85) rotate(-90) scale(0.2475 0.2500)" font-size="102.00">height</text>
<text transform="translate(42.60 314.24) rotate(-90) scale(0.2310 0.2500)" font-size="102.00">(cm)</text>
<text transform="translate(558.30 490.72) rotate(-90) scale(0.2523 0.2500)" font-size="102.00">Shoot</text>
<text transform="translate(558.30 424.44) rotate(-90) scale(0.2540 0.2500)" font-size="102.00">dry</text>
<text transform="translate(558.30 384.72) rotate(-90) scale(0.2435 0.2500)" font-size="102.00">matter</text>
<text transform="translate(558.30 316.07) rotate(-90) scale(0.2390 0.2500)" font-size="102.00">(kg ha</text>
<text transform="translate(542.90 253.97) rotate(-90) scale(0.2399 0.2500)" font-size="64.00">-1</text>
<text transform="translate(558.30 239.68) rotate(-90) scale(0.2672 0.2500)" font-size="102.00">)</text>
<text transform="translate(33.90 960.14) rotate(-90) scale(0.2238 0.2500)" font-size="102.00">Grain</text>
<text transform="translate(33.90 895.80) rotate(-90) scale(0.2388 0.2500)" font-size="102.00">yield</text>
<text transform="translate(33.90 841.09) rotate(-90) scale(0.2422 0.2500)" font-size="102.00">(kg ha</text>
<text transform="translate(18.70 778.50) rotate(-90) scale(0.2102 0.2500)" font-size="64.00">-1</text>
<text transform="translate(33.90 764.57) rotate(-90) scale(0.2634 0.2500)" font-size="102.00">)</text>
<text transform="translate(560.40 953.82) rotate(-90) scale(0.2199 0.2500)" font-size="102.00">Grain</text>
<text transform="translate(560.40 895.19) rotate(-90) scale(0.2368 0.2500)" font-size="102.00">yield</text>
<text transform="translate(560.40 834.28) rotate(-90) scale(0.2410 0.2500)" font-size="102.00">(kg ha</text>
<text transform="translate(545.10 772.02) rotate(-90) scale(0.2187 0.2500)" font-size="64.00">-1</text>
<text transform="translate(560.40 757.89) rotate(-90) scale(0.2710 0.2500)" font-size="102.00">)</text>
<text transform="translate(184.73 1088.57) rotate(-31.0) scale(0.2500)" font-size="96.00" text-anchor="end">Ctl</text>
<text transform="translate(230.48 1089.64) rotate(-31.0) scale(0.2500)" font-size="96.00" text-anchor="end">R</text>
<text transform="translate(293.02 1081.79) rotate(-31.0) scale(0.2500)" font-size="96.00" text-anchor="end">R+A</text>
<text transform="translate(339.91 1085.10) rotate(-31.0) scale(0.2500)" font-size="96.00" text-anchor="end">R+B</text>
<text transform="translate(385.30 1087.56) rotate(-31.0) scale(0.2500)" font-size="96.00" text-anchor="end">R+P</text>
<text transform="translate(452.19 1080.40) rotate(-31.0) scale(0.2500)" font-size="96.00" text-anchor="end">R+A+B</text>
<text transform="translate(509.58 1079.06) rotate(-31.0) scale(0.2500)" font-size="96.00" text-anchor="end">R+A+P</text>
<text transform="translate(716.23 1082.97) rotate(-31.0) scale(0.2500)" font-size="96.00" text-anchor="end">Ctl</text>
<text transform="translate(761.98 1084.04) rotate(-31.0) scale(0.2500)" font-size="96.00" text-anchor="end">R</text>
<text transform="translate(824.52 1076.19) rotate(-31.0) scale(0.2500)" font-size="96.00" text-anchor="end">R+A</text>
<text transform="translate(871.41 1079.50) rotate(-31.0) scale(0.2500)" font-size="96.00" text-anchor="end">R+B</text>
<text transform="translate(916.80 1081.96) rotate(-31.0) scale(0.2500)" font-size="96.00" text-anchor="end">R+P</text>
<text transform="translate(983.69 1074.80) rotate(-31.0) scale(0.2500)" font-size="96.00" text-anchor="end">R+A+B</text>
<text transform="translate(1041.08 1073.46) rotate(-31.0) scale(0.2500)" font-size="96.00" text-anchor="end">R+A+P</text>
</svg>
</body></html>
